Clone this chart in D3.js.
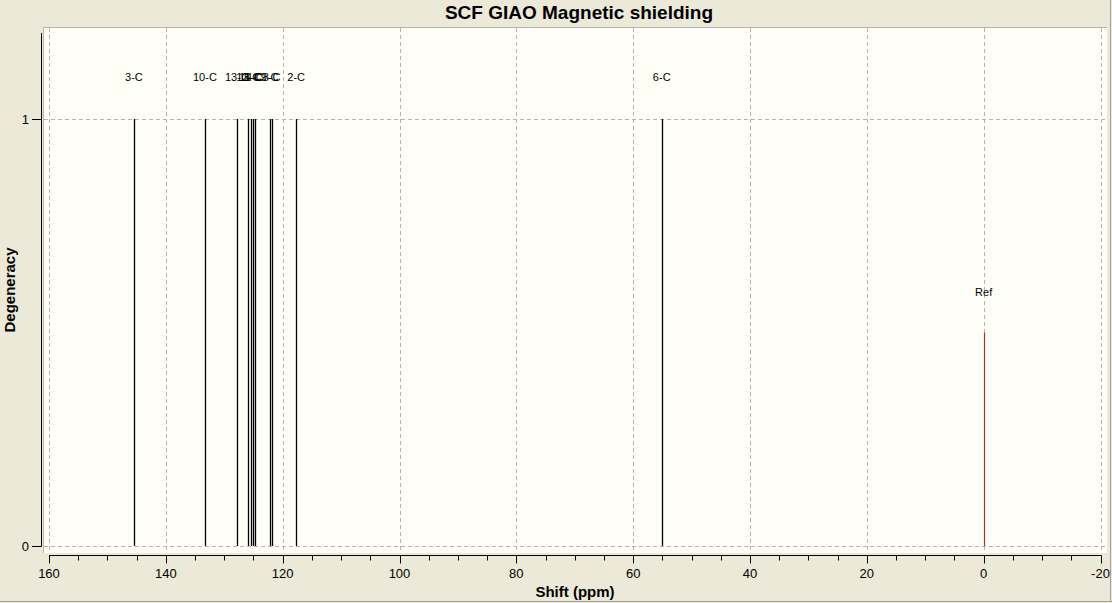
<!DOCTYPE html>
<html>
<head>
<meta charset="utf-8">
<script src="https://cdn.jsdelivr.net/npm/d3@7"></script>
<style>
  html, body { margin: 0; padding: 0; background: #ECE9D8; }
  svg { display: block; font-family: "Liberation Sans", Arial, sans-serif; }
</style>
</head>
<body>
<svg id="chart" width="1112" height="603"></svg>
<script>
// peak data
const peakLabels = ['3-C', '10-C', '13-C', '12-C', '11-C', '5-C', '4-C', '9-C', '8-C', '2-C', '6-C'];
const peakShifts = [145.46, 133.31, 127.83, 125.90, 125.49, 125.09, 124.75, 122.24, 121.89, 117.69, 55.11];
const peakDegeneracy = [1, 1, 1, 1, 1, 1, 1, 1, 1, 1, 1];
const refShift = 0;
const refHeight = 0.5;
const xMajorTicks = [160, 140, 120, 100, 80, 60, 40, 20, 0, -20];
const yTicks = [0, 1];

const svg = d3.select('#chart');
const W = 1112, H = 603;

const x = d3.scaleLinear().domain([160, -20]).range([49, 1100.5]);
const y = d3.scaleLinear().domain([0, 1]).range([546, 119]);

// window edges
svg.append('line').attr('x1', 0).attr('x2', W).attr('y1', 601.5).attr('y2', 601.5)
    .attr('stroke', '#a0a0a0');
svg.append('line').attr('x1', 1110.5).attr('x2', 1110.5).attr('y1', 0).attr('y2', 602)
    .attr('stroke', '#a0a0a0');

// plot area
svg.append('rect')
    .attr('x', 43).attr('y', 27)
    .attr('width', 1064).attr('height', 526)
    .attr('fill', '#FFFFF8');
svg.append('path')
    .attr('d', 'M43.5,553 L43.5,27.5 L1107,27.5')
    .attr('fill', 'none').attr('stroke', '#b8b6a8');

// grid
const grid = svg.append('g')
    .attr('stroke', '#b4b4b4')
    .attr('stroke-dasharray', '4,3');
grid.selectAll('line.v')
    .data(xMajorTicks)
    .join('line')
    .attr('class', 'v')
    .attr('x1', d => Math.round(x(d)) + 0.5)
    .attr('x2', d => Math.round(x(d)) + 0.5)
    .attr('y1', 28).attr('y2', 552);
grid.selectAll('line.h')
    .data(yTicks)
    .join('line')
    .attr('class', 'h')
    .attr('x1', 44).attr('x2', 1106)
    .attr('y1', d => Math.round(y(d)) + 0.5)
    .attr('y2', d => Math.round(y(d)) + 0.5);

// peaks
svg.append('g')
    .selectAll('line')
    .data(peakShifts)
    .join('line')
    .attr('x1', d => Math.round(x(d)) + 0.5)
    .attr('x2', d => Math.round(x(d)) + 0.5)
    .attr('y1', y(0))
    .attr('y2', (d, i) => y(peakDegeneracy[i]))
    .attr('stroke', '#000')
    .attr('stroke-width', 1.3);

svg.append('g')
    .selectAll('text')
    .data(peakShifts)
    .join('text')
    .attr('x', d => x(d))
    .attr('y', (d, i) => y(peakDegeneracy[i]) - 38)
    .attr('text-anchor', 'middle')
    .attr('font-size', 11)
    .attr('fill', '#000')
    .text((d, i) => peakLabels[i]);

// reference line
svg.append('line')
    .attr('x1', Math.round(x(refShift)) + 0.5)
    .attr('x2', Math.round(x(refShift)) + 0.5)
    .attr('y1', y(0))
    .attr('y2', y(refHeight))
    .attr('stroke', '#b03030')
    .attr('stroke-width', 1.2);
svg.append('text')
    .attr('x', x(refShift))
    .attr('y', y(refHeight) - 37)
    .attr('text-anchor', 'middle')
    .attr('font-size', 11)
    .text('Ref');

// x axis
const minorTicks = d3.range(160, -20.1, -5).filter(v => !xMajorTicks.includes(v));
const xAxis = svg.append('g')
    .attr('transform', 'translate(0,555.5)');
xAxis.append('line')
    .attr('x1', x(160)).attr('x2', x(-20) + 1)
    .attr('stroke', '#000');
xAxis.selectAll('line.minor')
    .data(minorTicks)
    .join('line')
    .attr('class', 'minor')
    .attr('x1', d => Math.round(x(d)) + 0.5)
    .attr('x2', d => Math.round(x(d)) + 0.5)
    .attr('y1', 0).attr('y2', 5)
    .attr('stroke', '#000');
xAxis.selectAll('line.major')
    .data(xMajorTicks)
    .join('line')
    .attr('class', 'major')
    .attr('x1', d => Math.round(x(d)) + 0.5)
    .attr('x2', d => Math.round(x(d)) + 0.5)
    .attr('y1', 0).attr('y2', 8)
    .attr('stroke', '#000');
xAxis.selectAll('text')
    .data(xMajorTicks)
    .join('text')
    .attr('x', d => x(d))
    .attr('y', 22)
    .attr('text-anchor', 'middle')
    .attr('font-size', 13)
    .text(d => d);

// y axis
const yAxis = svg.append('g');
yAxis.append('line')
    .attr('x1', 41.5).attr('x2', 41.5)
    .attr('y1', 33).attr('y2', 546.5)
    .attr('stroke', '#000');
yAxis.selectAll('line.tick')
    .data(yTicks)
    .join('line')
    .attr('class', 'tick')
    .attr('x1', 32).attr('x2', 41.5)
    .attr('y1', d => Math.round(y(d)) + 0.5)
    .attr('y2', d => Math.round(y(d)) + 0.5)
    .attr('stroke', '#000');
yAxis.selectAll('text')
    .data(yTicks)
    .join('text')
    .attr('x', 29)
    .attr('y', d => y(d) + 5)
    .attr('text-anchor', 'end')
    .attr('font-size', 13)
    .text(d => d);

// titles
svg.append('text')
    .attr('x', 579).attr('y', 19)
    .attr('text-anchor', 'middle')
    .attr('font-size', 19)
    .attr('font-weight', 'bold')
    .text('SCF GIAO Magnetic shielding');
svg.append('text')
    .attr('x', 575).attr('y', 597)
    .attr('text-anchor', 'middle')
    .attr('font-size', 15)
    .attr('font-weight', 'bold')
    .text('Shift (ppm)');
svg.append('text')
    .attr('transform', 'translate(15,290) rotate(-90)')
    .attr('text-anchor', 'middle')
    .attr('font-size', 15)
    .attr('font-weight', 'bold')
    .text('Degeneracy');
</script>
</body>
</html>
